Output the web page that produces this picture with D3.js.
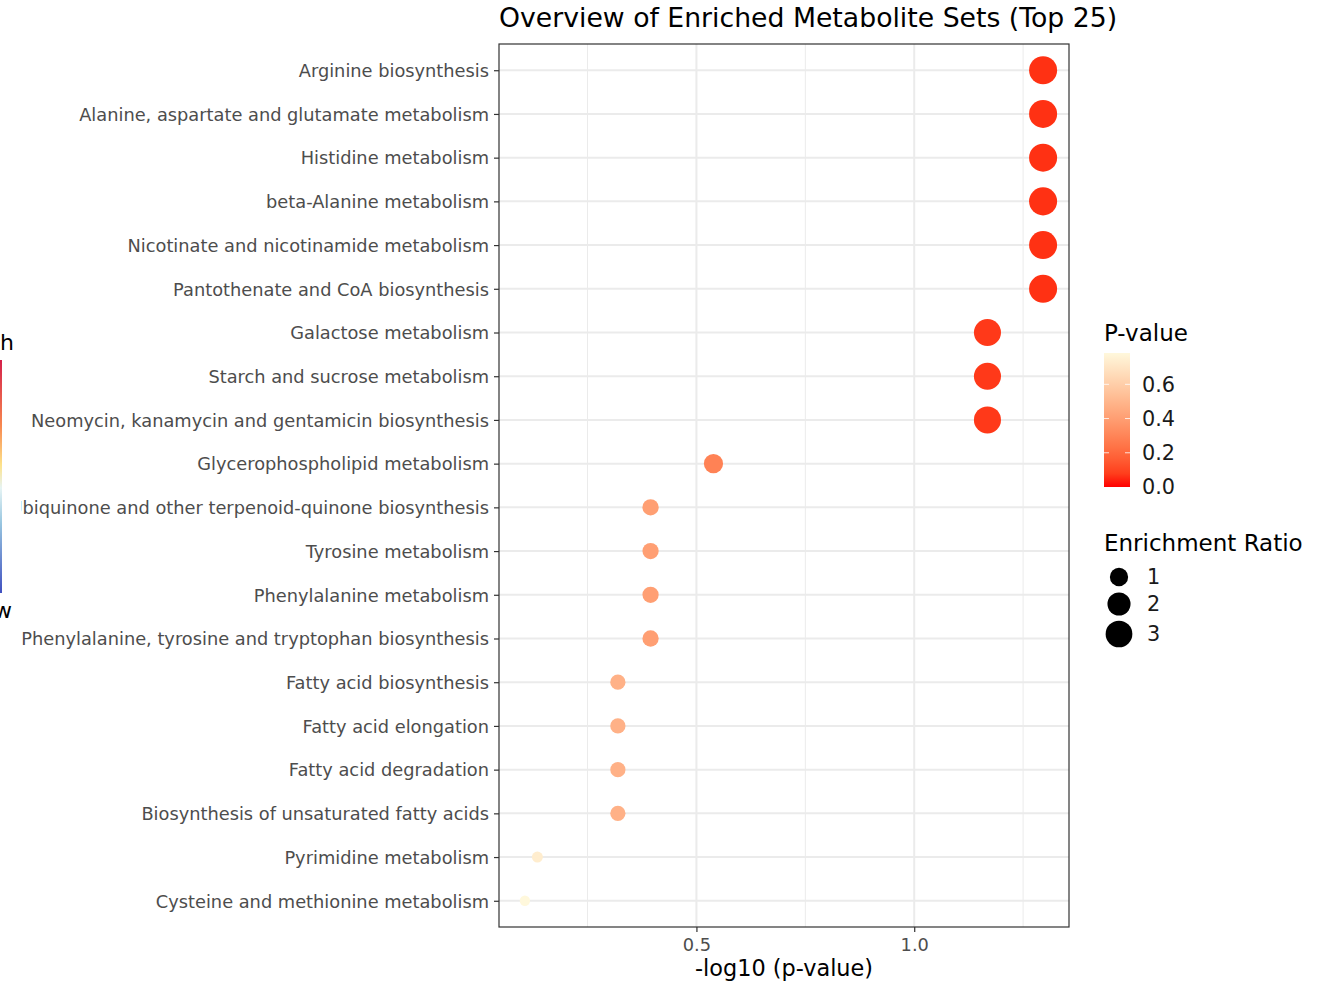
<!DOCTYPE html>
<html><head><meta charset="utf-8">
<script src="https://cdn.jsdelivr.net/npm/d3@7"></script>
<style>body{margin:0;background:#fff}svg{display:block;font-family:"DejaVu Sans",sans-serif}</style>
</head><body>
<svg id="c" width="1324" height="983"></svg>
<script>
const categories = [
  "Arginine biosynthesis",
  "Alanine, aspartate and glutamate metabolism",
  "Histidine metabolism",
  "beta-Alanine metabolism",
  "Nicotinate and nicotinamide metabolism",
  "Pantothenate and CoA biosynthesis",
  "Galactose metabolism",
  "Starch and sucrose metabolism",
  "Neomycin, kanamycin and gentamicin biosynthesis",
  "Glycerophospholipid metabolism",
  "Ubiquinone and other terpenoid-quinone biosynthesis",
  "Tyrosine metabolism",
  "Phenylalanine metabolism",
  "Phenylalanine, tyrosine and tryptophan biosynthesis",
  "Fatty acid biosynthesis",
  "Fatty acid elongation",
  "Fatty acid degradation",
  "Biosynthesis of unsaturated fatty acids",
  "Pyrimidine metabolism",
  "Cysteine and methionine metabolism"
];
const pValues = [0.0506,0.0506,0.0506,0.0506,0.0506,0.0506,
  0.0679,0.0679,0.0679,0.289,0.403,0.403,0.403,0.403,
  0.479,0.479,0.479,0.479,0.733,0.783];
const enrichmentRatio = [3.4,3.4,3.4,3.4,3.4,3.4,
  3.1,3.1,3.1,1.16,0.68,0.68,0.68,0.68,
  0.54,0.54,0.54,0.54,0.14,0.1];
const xTicks = [0.5, 1.0];
const xMinor = [0.25, 0.75, 1.25];
const pTicks = [0.0, 0.2, 0.4, 0.6];
const sizeBreaks = [1, 2, 3];

const svg = d3.select("#c");
const L = 499, R = 1069, T = 44, B = 927;

const xs = pValues.map(p => -Math.log10(p));
const xmin = d3.min(xs), xmax = d3.max(xs), pad = (xmax - xmin) * 0.05;
const x = d3.scaleLinear().domain([xmin - pad, xmax + pad]).range([L, R]);
const y = d3.scalePoint().domain(categories).range([T, B]).padding(0.6);

const pMax = d3.max(pValues);
const color = d3.scaleLinear().domain([0, pMax]).range(["#ff0000", "#fff8dc"]).interpolate(d3.interpolateLab);
const vmin = d3.min(enrichmentRatio), vmax = d3.max(enrichmentRatio);
const area = d3.scaleLinear().domain([vmin, vmax]).range([1, 36]);
const rad = v => 3.4 + 1.77 * Math.sqrt(area(v));

const defs = svg.append("defs");

// panel
const g = svg.append("g");
g.append("rect").attr("x",L).attr("y",T).attr("width",R-L).attr("height",B-T).attr("fill","#fff");
g.selectAll(".minor").data(xMinor).join("line")
  .attr("x1",d=>x(d)).attr("x2",d=>x(d)).attr("y1",T).attr("y2",B)
  .attr("stroke","#ebebeb").attr("stroke-width",1);
g.selectAll(".majx").data(xTicks).join("line")
  .attr("x1",d=>x(d)).attr("x2",d=>x(d)).attr("y1",T).attr("y2",B)
  .attr("stroke","#ebebeb").attr("stroke-width",2);
g.selectAll(".majy").data(categories).join("line")
  .attr("x1",L).attr("x2",R).attr("y1",d=>y(d)).attr("y2",d=>y(d))
  .attr("stroke","#ebebeb").attr("stroke-width",2);

// points
g.selectAll(".pt").data(categories).join("circle")
  .attr("cx",(d,i)=>x(xs[i])).attr("cy",d=>y(d))
  .attr("r",(d,i)=>rad(enrichmentRatio[i]))
  .attr("fill",(d,i)=>color(pValues[i]));

g.append("rect").attr("x",L).attr("y",T).attr("width",R-L).attr("height",B-T)
  .attr("fill","none").attr("stroke","#333").attr("stroke-width",1.2);

// axes
const ya = svg.append("g").attr("transform",`translate(${L},0)`)
  .call(d3.axisLeft(y).tickSize(5).tickPadding(5));
ya.select(".domain").remove();
ya.selectAll("line").attr("stroke","#333").attr("stroke-width",1.2);
ya.selectAll("text").attr("font-size",17.8).attr("fill","#4d4d4d").attr("font-family","DejaVu Sans").attr("dy","0.35em");

const xa = svg.append("g").attr("transform",`translate(0,${B})`)
  .call(d3.axisBottom(x).tickValues(xTicks).tickFormat(d3.format(".1f")).tickSize(5).tickPadding(6));
xa.select(".domain").remove();
xa.selectAll("line").attr("stroke","#333").attr("stroke-width",1.2);
xa.selectAll("text").attr("font-size",17.8).attr("fill","#4d4d4d").attr("font-family","DejaVu Sans");

svg.append("text").attr("x",(L+R)/2).attr("y",976).attr("text-anchor","middle").attr("font-size",22.4).text("-log10 (p-value)");
svg.append("text").attr("x",L).attr("y",27).attr("font-size",26.7).text("Overview of Enriched Metabolite Sets (Top 25)");

// stray partial legend on the left edge (with its white background over the labels)
svg.append("rect").attr("x",-40).attr("y",325).attr("width",61).attr("height",300).attr("fill","#fff");
const lg = defs.append("linearGradient").attr("id","hl").attr("x1",0).attr("x2",0).attr("y1",0).attr("y2",1);
[["0%","#d4204a"],["28%","#f7874f"],["45%","#fde28a"],["55%","#e6f4f4"],["70%","#98c6e0"],["100%","#4050c0"]]
  .forEach(s => lg.append("stop").attr("offset", s[0]).attr("stop-color", s[1]));
svg.append("rect").attr("x",-20).attr("y",360).attr("width",22).attr("height",233).attr("fill","url(#hl)");
svg.append("text").attr("x",14).attr("y",350).attr("text-anchor","end").attr("font-size",22).text("high");
svg.append("text").attr("x",12).attr("y",618).attr("text-anchor","end").attr("font-size",22).text("low");

// color legend
const cbT = 353, cbB = 487, cbL = 1104, cbW = 26;
const lg2 = defs.append("linearGradient").attr("id","pv").attr("x1",0).attr("x2",0).attr("y1",1).attr("y2",0);
d3.range(0,1.001,0.1).forEach(t => lg2.append("stop").attr("offset", (t*100)+"%").attr("stop-color", color(t*pMax)));
svg.append("text").attr("x",cbL).attr("y",341).attr("font-size",23).text("P-value");
svg.append("rect").attr("x",cbL).attr("y",cbT).attr("width",cbW).attr("height",cbB-cbT).attr("fill","url(#pv)");
const cy = d3.scaleLinear().domain([0,pMax]).range([cbB, cbT]);
pTicks.forEach(t => {
  if (t > 0) {
    svg.append("line").attr("x1",cbL).attr("x2",cbL+5).attr("y1",cy(t)).attr("y2",cy(t)).attr("stroke","#fff").attr("stroke-opacity",0.8);
    svg.append("line").attr("x1",cbL+cbW-5).attr("x2",cbL+cbW).attr("y1",cy(t)).attr("y2",cy(t)).attr("stroke","#fff").attr("stroke-opacity",0.8);
  }
  svg.append("text").attr("x",1142).attr("y",cy(t)).attr("dy","0.36em").attr("font-size",20.8).attr("fill","#1a1a1a").text(d3.format(".1f")(t));
});

// size legend
svg.append("text").attr("x",cbL).attr("y",551).attr("font-size",23).text("Enrichment Ratio");
const sy = [577, 604, 634];
sizeBreaks.forEach((v,i) => {
  svg.append("circle").attr("cx",1119).attr("cy",sy[i]).attr("r",rad(v)).attr("fill","#000");
  svg.append("text").attr("x",1147).attr("y",sy[i]).attr("dy","0.36em").attr("font-size",20.8).attr("fill","#1a1a1a").text(v);
});
</script>
</body></html>
